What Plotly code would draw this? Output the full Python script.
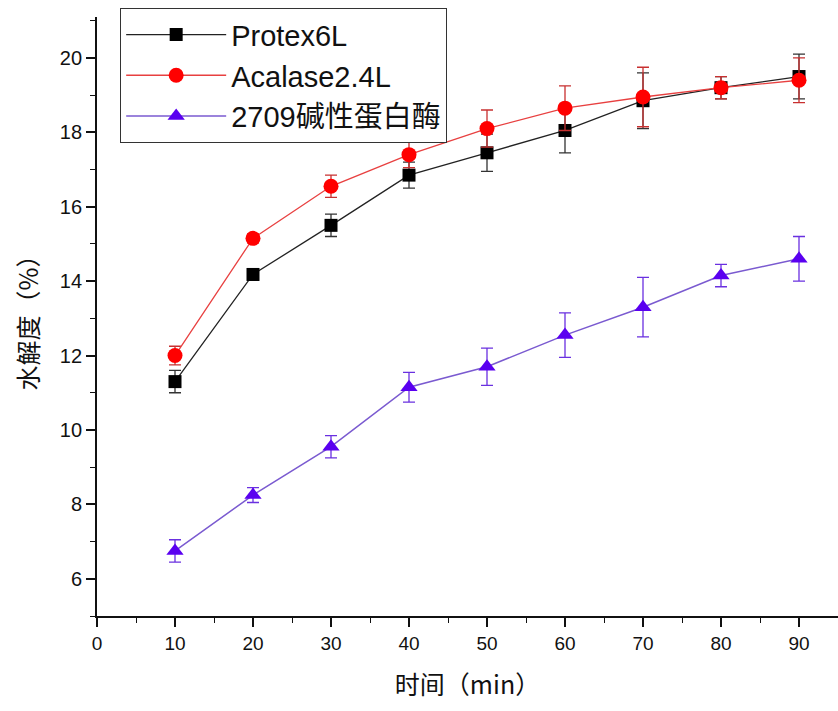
import plotly.graph_objects as go

time_min = [10, 20, 30, 40, 50, 60, 70, 80, 90]

protex_vals = [11.3, 14.18, 15.5, 16.85, 17.45, 18.05, 18.85, 19.2, 19.5]
protex_err = [0.3, 0.15, 0.3, 0.35, 0.5, 0.6, 0.75, 0.3, 0.6]

acalase_vals = [12.0, 15.15, 16.55, 17.4, 18.1, 18.65, 18.95, 19.2, 19.4]
acalase_err = [0.25, 0.12, 0.3, 0.35, 0.5, 0.6, 0.8, 0.3, 0.6]

alk_vals = [6.75, 8.25, 9.55, 11.15, 11.7, 12.55, 13.3, 14.15, 14.6]
alk_err = [0.3, 0.2, 0.3, 0.4, 0.5, 0.6, 0.8, 0.3, 0.6]

names = ["Protex6L", "Acalase2.4L", "2709碱性蛋白酶"]

fig = go.Figure()
fig.add_trace(go.Scatter(
    x=time_min, y=protex_vals, name=names[0], mode="lines+markers",
    line=dict(color="#222222", width=1.3),
    marker=dict(symbol="square", size=13, color="black"),
    error_y=dict(type="data", array=protex_err, color="#333333", thickness=1.3, width=6),
))
fig.add_trace(go.Scatter(
    x=time_min, y=acalase_vals, name=names[1], mode="lines+markers",
    line=dict(color="#e84040", width=1.3),
    marker=dict(symbol="circle", size=15, color="#ff0000"),
    error_y=dict(type="data", array=acalase_err, color="#c83030", thickness=1.3, width=6),
))
fig.add_trace(go.Scatter(
    x=time_min, y=alk_vals, name=names[2], mode="lines+markers",
    line=dict(color="#7a5ad0", width=1.5),
    marker=dict(symbol="triangle-up", size=15, color="#5a00f0"),
    error_y=dict(type="data", array=alk_err, color="#6a30e0", thickness=1.3, width=6),
))

font_main = "Liberation Sans, Noto Sans CJK SC, Arial, sans-serif"

fig.update_layout(
    width=838, height=711,
    margin=dict(l=97, r=0, t=17, b=95),
    paper_bgcolor="white", plot_bgcolor="white",
    font=dict(family=font_main, color="#111111"),
    showlegend=True,
    legend=dict(
        x=0.031, y=1.015, xanchor="left", yanchor="top",
        bgcolor="white", bordercolor="#333333", borderwidth=1.2,
        font=dict(size=29, family=font_main, color="#111111"),
        itemwidth=100, tracegroupgap=0,
    ),
    xaxis=dict(
        range=[0, 95], tickvals=[0, 10, 20, 30, 40, 50, 60, 70, 80, 90],
        ticks="outside", ticklen=9, tickwidth=1.5, tickcolor="#111111",
        showline=True, linecolor="#111111", linewidth=1.8,
        showgrid=False, zeroline=False,
        tickfont=dict(size=19, family="Liberation Sans Narrow, Liberation Sans, sans-serif"),
        minor=dict(dtick=5, ticks="outside", ticklen=5, tickwidth=1.2, tickcolor="#111111", showgrid=False),
        title=dict(text="时间（min）", font=dict(size=25, family="Noto Sans CJK SC, sans-serif"), standoff=24),
    ),
    yaxis=dict(
        range=[5, 21.1], tickvals=[6, 8, 10, 12, 14, 16, 18, 20],
        ticks="outside", ticklen=9, tickwidth=1.5, tickcolor="#111111",
        showline=True, linecolor="#111111", linewidth=1.8,
        showgrid=False, zeroline=False,
        tickfont=dict(size=20, family=font_main),
        minor=dict(dtick=1, ticks="outside", ticklen=5, tickwidth=1.2, tickcolor="#111111", showgrid=False),
        title=dict(text="水解度（%）", font=dict(size=25, family="Noto Sans CJK SC, sans-serif"), standoff=14),
    ),
)

fig.write_html("out.html")
